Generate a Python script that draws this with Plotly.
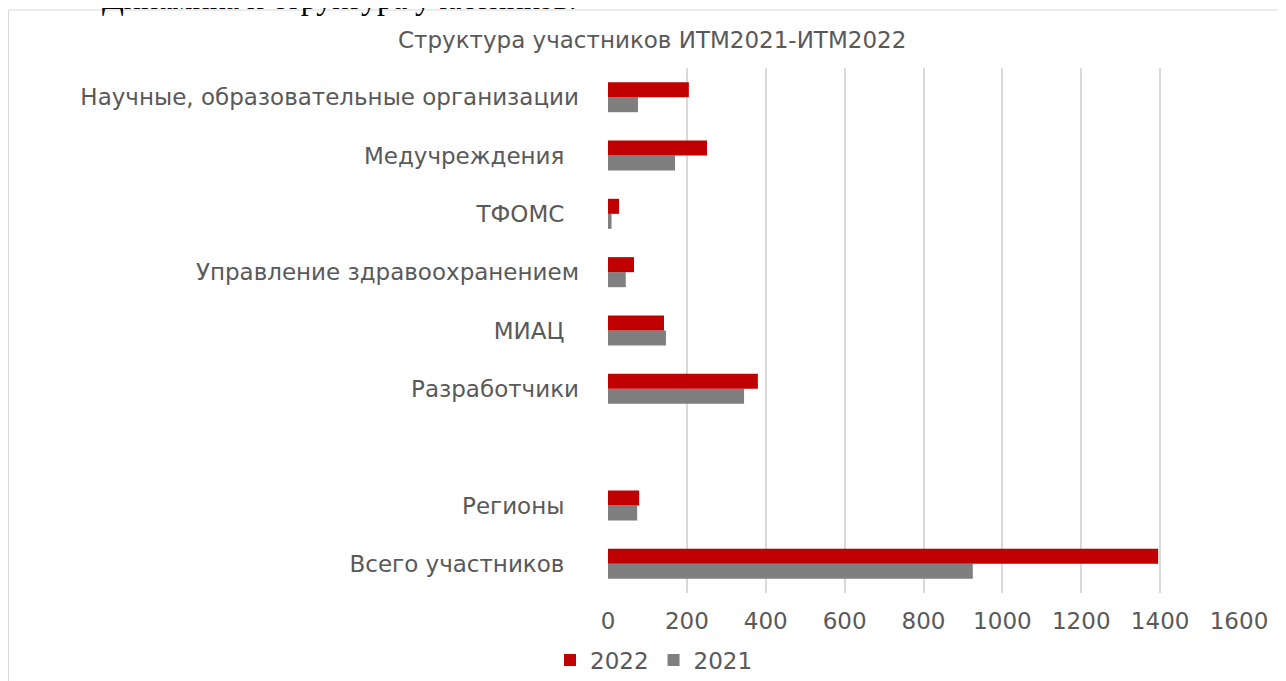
import plotly.graph_objects as go

categories = [
    "Всего участников\u00a0\u00a0",
    "Регионы\u00a0\u00a0",
    "\u00a0",
    "Разработчики",
    "МИАЦ\u00a0\u00a0",
    "Управление здравоохранением",
    "ТФОМС\u00a0\u00a0",
    "Медучреждения\u00a0\u00a0",
    "Научные, образовательные организации",
]
values_2021 = [925, 74, None, 345, 147, 45, 9, 170, 76]
values_2022 = [1395, 79, None, 380, 142, 66, 28, 251, 205]
x_ticks = [0, 200, 400, 600, 800, 1000, 1200, 1400, 1600]

OFF = 8  # page body margin
W, H = 1286 - OFF, 681 - OFF
L, R, T, B = 608 - OFF, 1239 - OFF, 68 - OFF, 593 - OFF
pw, ph = R - L, B - T

def px_x(p):
    # page pixel -> paper fraction
    return (p - OFF - L) / pw

def px_y(p):
    return (B - (p - OFF)) / ph

def cx(p):
    # page pixel -> container fraction
    return (p - OFF) / W

def cy(p):
    return 1 - (p - OFF) / H

GRAY_TEXT = "#595959"
FONT = "DejaVu Sans"

fig = go.Figure()
fig.add_trace(go.Bar(
    y=categories, x=values_2021, name="2021", orientation="h",
    marker=dict(color="#7f7f7f", line=dict(width=0)),
))
fig.add_trace(go.Bar(
    y=categories, x=values_2022, name="2022", orientation="h",
    marker=dict(color="#c00000", line=dict(width=0)),
))

fig.update_layout(
    width=W, height=H,
    margin=dict(l=L, r=W - R, t=T, b=H - B, pad=0, autoexpand=False),
    paper_bgcolor="white", plot_bgcolor="white",
    barmode="group", bargap=0.485, bargroupgap=0,
    font=dict(family=FONT, color=GRAY_TEXT, size=22),
    showlegend=True,
    legend=dict(
        orientation="h", traceorder="reversed",
        xref="container", yref="container",
        x=cx(654), xanchor="center", y=cy(660), yanchor="middle",
        font=dict(family=FONT, size=23, color=GRAY_TEXT),
        bgcolor="rgba(0,0,0,0)",
    ),
    xaxis=dict(
        range=[0, 1600], tickvals=x_ticks, ticktext=[str(v) for v in x_ticks],
        showgrid=True, gridcolor="#d9d9d9", gridwidth=1.5,
        zeroline=False, showline=False, ticks="",
        tickfont=dict(family=FONT, size=23, color=GRAY_TEXT),
        ticklabelstandoff=12, fixedrange=True, automargin=False,
    ),
    yaxis=dict(
        type="category", categoryorder="array", categoryarray=categories,
        range=[-0.5, len(categories) - 0.5],
        showgrid=False, zeroline=False, showline=False, ticks="",
        tickfont=dict(family=FONT, size=23, color=GRAY_TEXT),
        ticklabelstandoff=28, fixedrange=True, automargin=False,
    ),
)

# chart frame (top and left edges visible)
fig.add_shape(type="line", xref="paper", yref="paper",
              x0=px_x(8.5), x1=px_x(1290), y0=px_y(10), y1=px_y(10),
              line=dict(color="#d9d9d9", width=1), layer="below")
fig.add_shape(type="line", xref="paper", yref="paper",
              x0=px_x(8.5), x1=px_x(8.5), y0=px_y(10), y1=px_y(690),
              line=dict(color="#d9d9d9", width=1), layer="below")

# chart title
fig.add_annotation(xref="paper", yref="paper", x=px_x(652), y=px_y(40),
                   xanchor="center", yanchor="middle", showarrow=False,
                   text="Структура участников ИТМ2021-ИТМ2022",
                   font=dict(family=FONT, size=23, color=GRAY_TEXT))

# clipped document heading above the chart
fig.add_annotation(xref="paper", yref="paper", x=px_x(100), y=px_y(-2),
                   xanchor="left", yanchor="middle", showarrow=False,
                   text="Динамика и структура участников.",
                   font=dict(family="Liberation Serif", size=32, color="black"))

fig.write_html("out.html")
